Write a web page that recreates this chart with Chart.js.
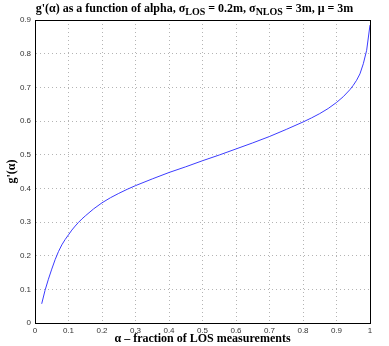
<!DOCTYPE html>
<html>
<head>
<meta charset="utf-8">
<script src="https://cdn.jsdelivr.net/npm/chart.js@4"></script>
<style>
  body { margin: 0; background: #fff; }
  #wrap { position: relative; width: 389px; height: 346px; }
  #titulo {
    position: absolute; left: 0; top: 1px; width: 389px; text-align: center;
    font: bold 12px "Liberation Serif", serif; color: #000; line-height: 14px;
  }
  #titulo sub { font-size: 10px; vertical-align: -3px; line-height: 0; }
</style>
</head>
<body>
<div id="wrap">
  <canvas id="grafica" width="389" height="346"></canvas>
  <div id="titulo">g'(&alpha;) as a function of alpha, &sigma;<sub>LOS</sub> = 0.2m, &sigma;<sub>NLOS</sub> = 3m, &mu; = 3m</div>
</div>
<script>
const alfa = [0.02, 0.03, 0.04, 0.05, 0.06, 0.07, 0.08, 0.09, 0.1, 0.11, 0.12, 0.13, 0.14, 0.15, 0.175, 0.2, 0.225, 0.25, 0.275,
              0.3, 0.35, 0.4, 0.45, 0.5, 0.55, 0.6, 0.65, 0.7, 0.75, 0.8, 0.825, 0.85, 0.875, 0.9, 0.92, 0.94, 0.95,
              0.96, 0.97, 0.98, 0.99, 1.0];
const gAlfa = [0.057, 0.097, 0.13, 0.16, 0.188, 0.212, 0.232, 0.248, 0.262, 0.276, 0.288, 0.299, 0.309, 0.318, 0.339, 0.357, 0.372, 0.385, 0.397,
               0.408, 0.428, 0.447, 0.464, 0.482, 0.499, 0.517, 0.535, 0.554, 0.575, 0.597, 0.609, 0.622, 0.637, 0.655, 0.672, 0.693, 0.706,
               0.721, 0.74, 0.77, 0.81, 0.885];
const ticksX = [0, 0.1, 0.2, 0.3, 0.4, 0.5, 0.6, 0.7, 0.8, 0.9, 1];
const ticksY = [0, 0.1, 0.2, 0.3, 0.4, 0.5, 0.6, 0.7, 0.8, 0.9];

const puntos = alfa.map((a, i) => ({ x: a, y: gAlfa[i] }));

// marco completo alrededor del area de la grafica
const marco = {
  id: 'marco',
  afterDraw(chart) {
    const c = chart.ctx, a = chart.chartArea;
    c.save();
    c.strokeStyle = '#000';
    c.lineWidth = 1;
    c.strokeRect(Math.round(a.left) + 0.5, Math.round(a.top) + 0.5,
                 Math.round(a.right - a.left), Math.round(a.bottom - a.top));
    c.restore();
  }
};

const fuenteTicks = { family: '"Liberation Sans", Arial, sans-serif', size: 8 };
const fuenteEje = { family: '"Liberation Serif", serif', size: 12, weight: 'bold' };

new Chart(document.getElementById('grafica').getContext('2d'), {
  type: 'scatter',
  data: {
    datasets: [{
      data: puntos,
      showLine: true,
      borderColor: 'rgb(60,60,255)',
      borderWidth: 1,
      pointRadius: 0,
      fill: false
    }]
  },
  options: {
    responsive: false,
    animation: false,
    layout: { padding: { top: 20, right: 19, left: 0, bottom: 0 } },
    plugins: { legend: { display: false }, tooltip: { enabled: false } },
    scales: {
      x: {
        type: 'linear', min: 0, max: 1,
        afterBuildTicks: s => { s.ticks = ticksX.map(v => ({ value: v })); },
        ticks: { color: '#333', font: fuenteTicks, padding: 3, maxRotation: 0,
                 callback: v => String(v) },
        grid: { color: '#b4b4b4', lineWidth: 1, drawTicks: false },
        border: { color: '#000', dash: [1, 3] },
        title: { display: true, text: 'α – fraction of LOS measurements', color: '#000',
                 font: fuenteEje, padding: { top: 0, bottom: 0 } },
        afterFit: s => { s.height = 23; }
      },
      y: {
        type: 'linear', min: 0, max: 0.9,
        afterBuildTicks: s => { s.ticks = ticksY.map(v => ({ value: v })); },
        ticks: { color: '#333', font: fuenteTicks, padding: 4,
                 callback: v => String(v) },
        grid: { color: '#b4b4b4', lineWidth: 1, drawTicks: false },
        border: { color: '#000', dash: [1, 3] },
        title: { display: true, text: "g'(α)", color: '#000', font: fuenteEje,
                 padding: { top: 5, bottom: 0 } },
        afterFit: s => { s.width = 35; }
      }
    }
  },
  plugins: [marco]
});
</script>
</body>
</html>
